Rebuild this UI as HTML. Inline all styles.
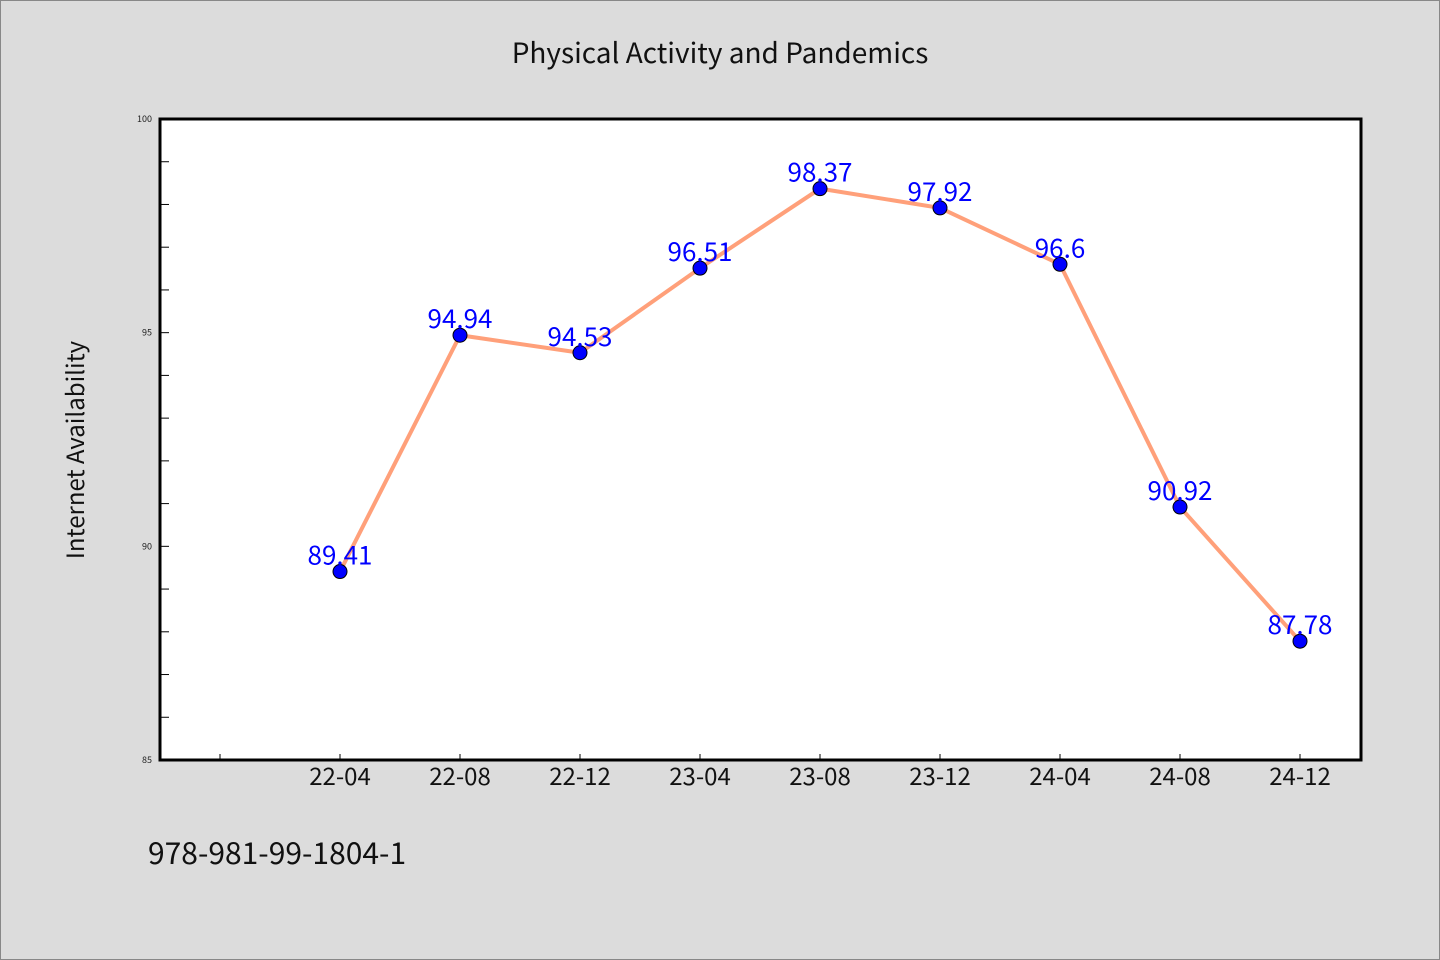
<!DOCTYPE html>
<html><head><meta charset="utf-8"><style>
html,body{margin:0;padding:0;background:#dcdcdc;}
svg{display:block;font-family:"WenQuanYi Zen Hei Mono","WenQuanYi Zen Hei","Noto Sans CJK SC","Liberation Sans",sans-serif;}
</style></head><body>
<svg id="chart" width="1440" height="960">
<rect x="0.5" y="0.5" width="1439" height="959" fill="#dcdcdc" stroke="#888"/>
<text x="720" y="63" font-size="28" text-anchor="middle" fill="#111">Physical Activity and Pandemics</text>
<rect x="160" y="119" width="1201" height="641" fill="#fff"/>
<g id="yticks"></g><g id="xticks"></g>
<rect x="160" y="119" width="1201" height="641" fill="none" stroke="#000" stroke-width="3"/>
<text transform="translate(84,450) rotate(-90)" font-size="24" text-anchor="middle" fill="#111">Internet Availability</text>
<g id="series"></g>
<text x="148" y="864" font-size="30" fill="#111">978-981-99-1804-1</text>
</svg>
<script>
const categories=["22-04","22-08","22-12","23-04","23-08","23-12","24-04","24-08","24-12"];
const values=[89.41,94.94,94.53,96.51,98.37,97.92,96.6,90.92,87.78];
const yTickLabels=[85,90,95,100];
const NS="http://www.w3.org/2000/svg";
const yMin=85,yMax=100,plotTop=119,plotBot=760;
function yScale(v){return plotBot-(v-yMin)/(yMax-yMin)*(plotBot-plotTop);}
function xScale(i){return 340+120*i;}
function mk(tag,attrs,parent){const e=document.createElementNS(NS,tag);for(const k in attrs)e.setAttribute(k,attrs[k]);parent.appendChild(e);return e;}
const yg=document.getElementById('yticks'),xg=document.getElementById('xticks'),sg=document.getElementById('series');
for(let v=yMin;v<=yMax;v++){
  const t=mk('line',{x1:160,x2:169,y1:yScale(v),y2:yScale(v),stroke:'#000','stroke-width':1},yg);
  
  
}
yTickLabels.forEach(v=>{
  const t=mk('text',{x:152,y:yScale(v)+3,'font-size':9,'text-anchor':'end',fill:'#222'},yg);
  t.textContent=v;
  
  
});
for(let i=-1;i<categories.length;i++){
  const t=mk('line',{x1:xScale(i),x2:xScale(i),y1:plotBot,y2:plotBot-6,stroke:'#000','stroke-width':1},xg);
  
  
}
categories.forEach((c,i)=>{
  const t=mk('text',{x:xScale(i),y:785,'font-size':24,'text-anchor':'middle',fill:'#111'},xg);
  t.textContent=c;
  
  
});
const pl=mk('polyline',{points:values.map((v,i)=>xScale(i)+','+yScale(v)).join(' '),fill:'none',stroke:'#ffa07a','stroke-width':4},sg);


values.forEach((v,i)=>{
  const c=mk('circle',{cx:xScale(i),cy:yScale(v),r:7,fill:'#0000ff',stroke:'#000','stroke-width':1},sg);
  
  
  const t=mk('text',{x:xScale(i),y:yScale(v)-7,'font-size':26,'text-anchor':'middle',fill:'#0000ff'},sg);
  t.textContent=v;
  
  
});
</script>
</body></html>
